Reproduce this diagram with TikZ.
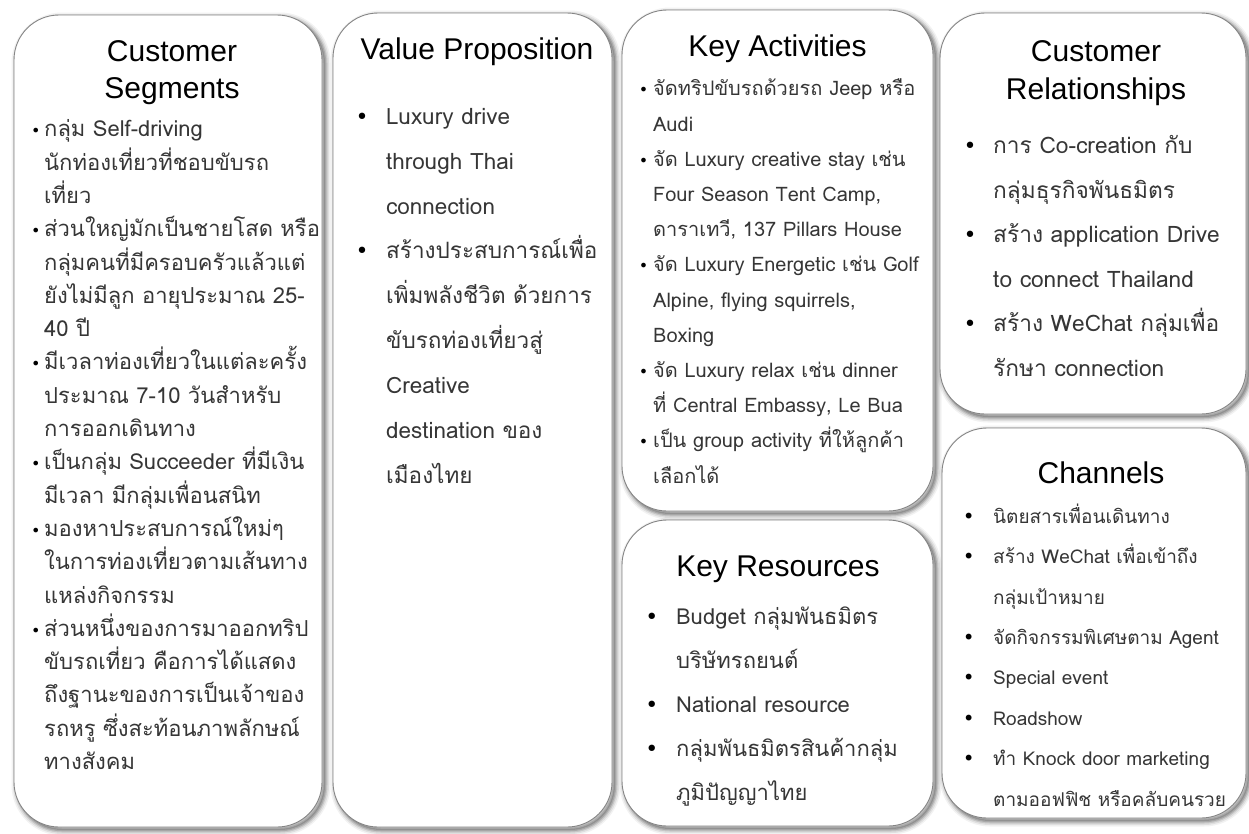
\documentclass[tikz,border=0pt]{standalone}
\usepackage{fontspec}
\setmainfont{Liberation Sans}
\newfontfamily\thaifont[Script=Thai]{Loma}
\newfontfamily\dotfont{DejaVu Sans}
\definecolor{bodytext}{HTML}{363636}
\definecolor{edge}{HTML}{858585}
% bullet hanging to the left of a line: #1 = bullet size, #2 = gap to the text
\newcommand{\bul}[2]{\llap{{\dotfont\fontsize{#1}{#1}\selectfont\color{black}•}\hspace{#2}}}
\tikzset{
  softshadow/.style={
    preaction={fill=black, opacity=0.14, transform canvas={shift={(3pt,-3pt)}}},
    preaction={draw=black, line width=2.5pt, opacity=0.14, transform canvas={shift={(3pt,-3pt)}}},
    preaction={draw=black, line width=5pt, opacity=0.11, transform canvas={shift={(3pt,-3pt)}}},
    preaction={draw=black, line width=8pt, opacity=0.08, transform canvas={shift={(3pt,-3pt)}}},
    preaction={draw=black, line width=11pt, opacity=0.05, transform canvas={shift={(3pt,-3pt)}}}
  },
  canvasbox/.style={draw=edge, line width=0.9pt, fill=white, rounded corners=45pt,
    inner sep=0pt, softshadow},
  ttl/.style={font=\fontsize{30}{37}\selectfont, text=black, inner sep=0pt, align=center},
  bodytxt/.style={text=bodytext, inner sep=0pt, align=left, anchor=north west}
}
\begin{document}
\begin{tikzpicture}[x=1pt, y=-1pt]
\useasboundingbox (0,0) rectangle (1249,833);
\fill[white] (0,0) rectangle (1249,833);

% the six blocks of the canvas
\node[canvasbox, minimum width=308pt, minimum height=812pt] (segbox) at (168,421) {};
\node[canvasbox, minimum width=279pt, minimum height=814pt] (valbox) at (472.5,420) {};
\node[canvasbox, minimum width=311pt, minimum height=501pt] (actbox) at (777.5,260.5) {};
\node[canvasbox, minimum width=311pt, minimum height=306pt] (resbox) at (777.5,673) {};
\node[canvasbox, minimum width=306pt, minimum height=401pt] (relbox) at (1093,213.5) {};
\node[canvasbox, minimum width=304pt, minimum height=390pt] (chabox) at (1094,623) {};

% titles
\node[ttl, anchor=north] (segttl) at (172,35.1) {\strut Customer\\Segments};
\node[ttl, anchor=base] (valttl) at (477,59) {Value Proposition};
\node[ttl, anchor=base] (actttl) at (777.5,56) {Key Activities};
\node[ttl, anchor=base] (resttl) at (778,576) {Key Resources};
\node[ttl, anchor=north, font=\fontsize{30}{38}\selectfont] (relttl) at (1096,34.4) {\strut Customer\\Relationships};
\node[ttl, anchor=base] (chattl) at (1101,483) {Channels};

% Customer Segments
\node[bodytxt, font={\thaifont\fontsize{22}{33.3}\selectfont\lineskiplimit=-60pt}] (segtxt) at (44,113.3) {%
\strut\bul{16}{3.6pt}กลุ่ม Self-driving\\
นักท่องเที่ยวที่ชอบขับรถ\\
เที่ยว\\
\bul{16}{3.6pt}ส่วนใหญ่มักเป็นชายโสด หรือ\\
กลุ่มคนที่มีครอบครัวแล้วแต่\\
ยังไม่มีลูก อายุประมาณ 25-\\
40 ปี\\
\bul{16}{3.6pt}มีเวลาท่องเที่ยวในแต่ละครั้ง\\
ประมาณ 7-10 วันสำหรับ\\
การออกเดินทาง\\
\bul{16}{3.6pt}เป็นกลุ่ม Succeeder ที่มีเงิน\\
มีเวลา มีกลุ่มเพื่อนสนิท\\
\bul{16}{3.6pt}มองหาประสบการณ์ใหม่ๆ\\
ในการท่องเที่ยวตามเส้นทาง\\
แหล่งกิจกรรม\\
\bul{16}{3.6pt}ส่วนหนึ่งของการมาออกทริป\\
ขับรถเที่ยว คือการได้แสดง\\
ถึงฐานะของการเป็นเจ้าของ\\
รถหรู ซึ่งสะท้อนภาพลักษณ์\\
ทางสังคม};

% Value Proposition
\node[bodytxt, font={\thaifont\fontsize{22.5}{44.9}\selectfont\lineskiplimit=-60pt}] (valtxt) at (386,92.6) {%
\strut\bul{22}{17.5pt}Luxury drive\\
through Thai\\
connection\\
\bul{22}{17.5pt}สร้างประสบการณ์เพื่อ\\
เพิ่มพลังชีวิต ด้วยการ\\
ขับรถท่องเที่ยวสู่\\
Creative\\
destination ของ\\
เมืองไทย};

% Key Activities
\node[bodytxt, font={\thaifont\fontsize{20}{35.2}\selectfont\lineskiplimit=-60pt}] (acttxt) at (653,71) {%
\strut\bul{16}{5pt}จัดทริปขับรถด้วยรถ Jeep หรือ\\
Audi\\
\bul{16}{5pt}จัด Luxury creative stay เช่น\\
Four Season Tent Camp,\\
ดาราเทวี, 137 Pillars House\\
\bul{16}{5pt}จัด Luxury Energetic เช่น Golf\\
Alpine, flying squirrels,\\
Boxing\\
\bul{16}{5pt}จัด Luxury relax เช่น dinner\\
ที่ Central Embassy, Le Bua\\
\bul{16}{5pt}เป็น group activity ที่ให้ลูกค้า\\
เลือกได้};

% Key Resources
\node[bodytxt, font={\thaifont\fontsize{22}{44}\selectfont\lineskiplimit=-60pt}] (restxt) at (676,593) {%
\strut\bul{22}{17.8pt}Budget กลุ่มพันธมิตร\\
บริษัทรถยนต์\\
\bul{22}{17.8pt}National resource\\
\bul{22}{17.8pt}กลุ่มพันธมิตรสินค้ากลุ่ม\\
ภูมิปัญญาไทย};

% Customer Relationships
\node[bodytxt, font={\thaifont\fontsize{22.7}{44.6}\selectfont\lineskiplimit=-60pt}] (reltxt) at (993,122) {%
\strut\bul{22}{16.5pt}การ Co-creation กับ\\
กลุ่มธุรกิจพันธมิตร\\
\bul{22}{16.5pt}สร้าง application Drive\\
to connect Thailand\\
\bul{22}{16.5pt}สร้าง WeChat กลุ่มเพื่อ\\
รักษา connection};

% Channels
\node[bodytxt, font={\thaifont\fontsize{19}{40.4}\selectfont\lineskiplimit=-60pt}] (chatxt) at (993,494.8) {%
\strut\bul{20}{18.5pt}นิตยสารเพื่อนเดินทาง\\
\bul{20}{18.5pt}สร้าง WeChat เพื่อเข้าถึง\\
กลุ่มเป้าหมาย\\
\bul{20}{18.5pt}จัดกิจกรรมพิเศษตาม Agent\\
\bul{20}{18.5pt}Special event\\
\bul{20}{18.5pt}Roadshow\\
\bul{20}{18.5pt}ทำ Knock door marketing\\
ตามออฟฟิช หรือคลับคนรวย};
\end{tikzpicture}
\end{document}
